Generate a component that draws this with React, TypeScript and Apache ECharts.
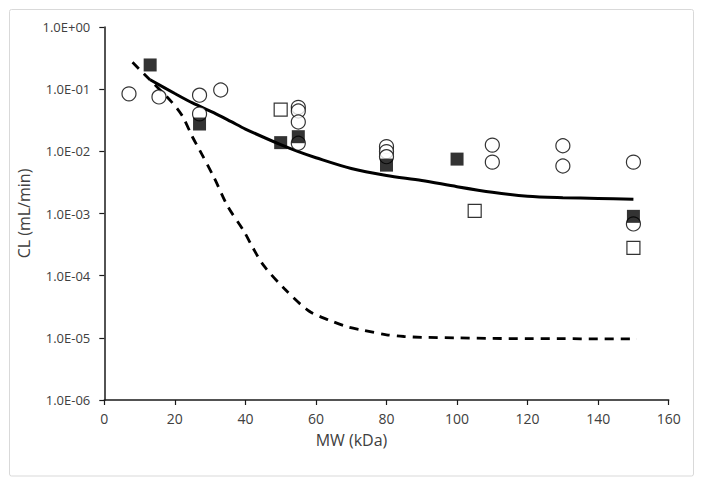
import React, { useEffect, useRef } from "react";
import * as echarts from "echarts";

// Observed data (MW in kDa, CL in mL/min)
const openCircles: [number, number][] = [
  [7, 0.084], [15.5, 0.075], [27, 0.08], [27, 0.04], [33, 0.097],
  [55, 0.051], [55, 0.0446], [55, 0.0296], [55, 0.0135],
  [80, 0.0119], [80, 0.0099], [80, 0.0082],
  [110, 0.0126], [110, 0.0067], [130, 0.0123], [130, 0.0058],
  [150, 0.0067], [150, 0.00068],
];
const filledSquares: [number, number][] = [
  [13, 0.245], [27, 0.0275], [50, 0.0138], [55, 0.0172], [80, 0.006],
  [100, 0.0075], [150, 0.0009],
];
const openSquares: [number, number][] = [
  [50, 0.0468], [105, 0.0011], [150, 0.00028],
];
// Model curves
const solidCurve: [number, number][] = [
  [13, 0.142], [20, 0.085], [25, 0.06], [31, 0.042], [36, 0.03], [40, 0.0228],
  [50, 0.0128], [55, 0.0099], [60, 0.0079], [70, 0.0053], [80, 0.0041],
  [90, 0.0034], [100, 0.0027], [110, 0.0022], [120, 0.0019], [130, 0.0018],
  [140, 0.00175], [150, 0.0017],
];
const dashedCurve: [number, number][] = [
  [8, 0.27], [13, 0.14], [19, 0.063], [22, 0.038], [25, 0.017], [27, 0.0105],
  [31, 0.0039], [35, 0.0013], [39.4, 0.00054], [42, 0.00029], [45, 0.00015],
  [51, 6.2e-5], [58, 2.7e-5], [64, 1.9e-5], [69, 1.5e-5], [73, 1.34e-5],
  [80, 1.12e-5], [85, 1.05e-5], [90, 1.02e-5], [100, 1.0e-5], [110, 9.8e-6],
  [120, 9.7e-6], [130, 9.7e-6], [140, 9.6e-6], [151, 9.6e-6],
];
const xTicks = { min: 0, max: 160, interval: 20 };
const yRange = { min: 1e-6, max: 1 };
const xTitle = "MW (kDa)";
const yTitle = "CL (mL/min)";

const FONT = "Open Sans";
const TXT = "#404040";

function sciLabel(v: number): string {
  const e = Math.round(Math.log10(v));
  const s = e >= 0 ? "+" : "-";
  const a = Math.abs(e);
  return "1.0E" + s + (a < 10 ? "0" + a : String(a));
}

export default function App() {
  const ref = useRef<HTMLDivElement>(null);
  useEffect(() => {
    if (!ref.current) return;
    const chart = echarts.init(ref.current, undefined, { renderer: "svg" });
    const axisLine = { show: true, lineStyle: { color: "#1a1a1a", width: 1.5 } };
    chart.setOption({
      animation: false,
      backgroundColor: "#ffffff",
      graphic: [
        {
          type: "rect",
          shape: { x: 9.5, y: 9.5, width: 684, height: 466.5, r: 2 },
          style: { fill: "none", stroke: "#d9d9d9", lineWidth: 1 },
          silent: true,
        },
        {
          type: "text",
          x: 351.5,
          y: 440,
          style: {
            text: xTitle,
            fontFamily: FONT,
            fontSize: 16,
            fill: TXT,
            align: "center",
            verticalAlign: "middle",
          },
          silent: true,
        },
      ],
      grid: { left: 104.3, right: 35.3, top: 27, bottom: 88, containLabel: false },
      xAxis: {
        type: "value",
        min: xTicks.min,
        max: xTicks.max,
        interval: xTicks.interval,
        axisLine,
        axisTick: { show: true, length: 5, lineStyle: { color: "#1a1a1a", width: 1.2 } },
        axisLabel: { fontFamily: FONT, fontSize: 14, color: TXT, margin: 11 },
        splitLine: { show: false },
      },
      yAxis: {
        type: "log",
        logBase: 10,
        min: yRange.min,
        max: yRange.max,
        name: yTitle,
        nameLocation: "middle",
        nameGap: 70,
        nameTextStyle: { fontFamily: FONT, fontSize: 16, color: TXT },
        axisLine,
        axisTick: { show: true, length: 5, lineStyle: { color: "#1a1a1a", width: 1.2 } },
        axisLabel: {
          fontFamily: FONT,
          fontSize: 13,
          color: TXT,
          margin: 14,
          formatter: (v: number) => sciLabel(v),
        },
        splitLine: { show: false },
        minorTick: { show: false },
      },
      series: [
        {
          type: "line",
          data: dashedCurve,
          smooth: 0.3,
          showSymbol: false,
          symbol: "none",
          lineStyle: { color: "#000", width: 2.8, type: [9, 7] },
          z: 2,
        },
        {
          type: "line",
          data: solidCurve,
          smooth: 0.3,
          showSymbol: false,
          symbol: "none",
          lineStyle: { color: "#000", width: 3 },
          z: 2,
        },
        {
          type: "scatter",
          data: openCircles,
          symbol: "circle",
          symbolSize: 14,
          itemStyle: { color: "#fff", borderColor: "#000", borderWidth: 1.2 },
          z: 3,
        },
        {
          type: "scatter",
          data: openSquares,
          symbol: "rect",
          symbolSize: 13,
          itemStyle: { color: "#fff", borderColor: "#000", borderWidth: 1.2 },
          z: 4,
        },
        {
          type: "scatter",
          data: filledSquares,
          symbol: "rect",
          symbolSize: 13,
          itemStyle: { color: "#000", borderColor: "#000", borderWidth: 0 },
          z: 5,
        },
      ],
    });
    return () => chart.dispose();
  }, []);
  return (
    <div
      ref={ref}
      style={{ position: "fixed", left: 0, top: 0, width: 704, height: 488 }}
    />
  );
}
